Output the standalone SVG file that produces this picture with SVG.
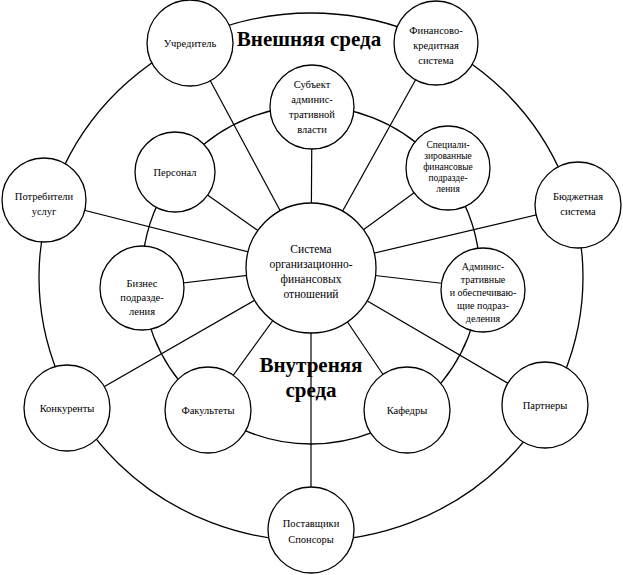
<svg xmlns="http://www.w3.org/2000/svg" width="623" height="575" viewBox="0 0 623 575">
<style>
.ring{fill:none;stroke:#000;stroke-width:1.3}
.conn line{stroke:#000;stroke-width:1.2}
.node circle{fill:#fff;stroke:#000;stroke-width:1.3}
.node text{font-size:10.5px;fill:#000;text-anchor:middle}
.big{font-weight:bold;font-size:21px;fill:#000;text-anchor:middle}
</style>
<rect width="623" height="575" fill="#fff"/>
<g id="rings">
<ellipse class="ring" cx="311" cy="277" rx="272" ry="264"/>
<circle class="ring" cx="311" cy="275" r="169"/>
</g>
<g id="connectors" class="conn">
<line x1="311" y1="268" x2="190" y2="43"/>
<line x1="311" y1="268" x2="436" y2="43"/>
<line x1="311" y1="268" x2="44" y2="200"/>
<line x1="311" y1="268" x2="578" y2="205"/>
<line x1="311" y1="268" x2="67" y2="408"/>
<line x1="311" y1="268" x2="545" y2="405"/>
<line x1="311" y1="268" x2="311" y2="530"/>
<line x1="311" y1="268" x2="312" y2="107"/>
<line x1="311" y1="268" x2="175" y2="172"/>
<line x1="311" y1="268" x2="448" y2="168"/>
<line x1="311" y1="268" x2="140" y2="288"/>
<line x1="311" y1="268" x2="482" y2="288"/>
<line x1="311" y1="268" x2="208" y2="410"/>
<line x1="311" y1="268" x2="407" y2="410"/>
</g>
<g font-family="'Times New Roman', 'Liberation Serif', 'DejaVu Serif', serif">
<text class="big" x="309" y="46">Внешняя среда</text>
<text class="big" x="311" y="372">Внутреняя</text>
<text class="big" x="311" y="397">среда</text>
<g id="n-uchreditel" class="node"><circle cx="190" cy="43" r="43"/><text x="190" y="47">Учредитель</text></g>
<g id="n-finkred" class="node"><circle cx="436" cy="43" r="42"/><text x="436" y="34">Финансово-</text><text x="436" y="49">кредитная</text><text x="436" y="64">система</text></g>
<g id="n-subekt" class="node"><circle cx="312" cy="107" r="42"/><text x="312" y="88">Субъект</text><text x="312" y="103">админис-</text><text x="312" y="118">тративной</text><text x="312" y="133">власти</text></g>
<g id="n-personal" class="node"><circle cx="175" cy="172" r="40"/><text x="175" y="176">Персонал</text></g>
<g id="n-specfin" class="node"><circle cx="448" cy="168" r="42"/><text x="448" y="148" style="font-size:9.5px">Специали-</text><text x="448" y="159" style="font-size:9.5px">зированные</text><text x="448" y="170" style="font-size:9.5px">финансовые</text><text x="448" y="181" style="font-size:9.5px">подразде-</text><text x="448" y="192" style="font-size:9.5px">ления</text></g>
<g id="n-potrebiteli" class="node"><circle cx="44" cy="200" r="42"/><text x="44" y="200">Потребители</text><text x="44" y="215">услуг</text></g>
<g id="n-budget" class="node"><circle cx="578" cy="205" r="43"/><text x="578" y="200">Бюджетная</text><text x="578" y="215">система</text></g>
<g id="n-center" class="node"><circle cx="311" cy="268" r="65"/><text x="311" y="253" style="font-size:11.5px">Система</text><text x="311" y="268" style="font-size:11.5px">организационно-</text><text x="311" y="283" style="font-size:11.5px">финансовых</text><text x="311" y="298" style="font-size:11.5px">отношений</text></g>
<g id="n-biznes" class="node"><circle cx="142" cy="288" r="42"/><text x="142" y="287">Бизнес</text><text x="142" y="301">подразде-</text><text x="142" y="315">ления</text></g>
<g id="n-admin" class="node"><circle cx="483" cy="290" r="42"/><text x="483" y="270" style="font-size:10px">Админис-</text><text x="483" y="283" style="font-size:10px">тративные</text><text x="483" y="296" style="font-size:10px">и обеспечиваю-</text><text x="483" y="309" style="font-size:10px">щие подраз-</text><text x="483" y="322" style="font-size:10px">деления</text></g>
<g id="n-konkurenty" class="node"><circle cx="67" cy="408" r="43"/><text x="67" y="412">Конкуренты</text></g>
<g id="n-fakultety" class="node"><circle cx="208" cy="410" r="43"/><text x="208" y="414">Факультеты</text></g>
<g id="n-kafedry" class="node"><circle cx="407" cy="410" r="43"/><text x="407" y="414">Кафедры</text></g>
<g id="n-partnery" class="node"><circle cx="545" cy="405" r="43"/><text x="545" y="409">Партнеры</text></g>
<g id="n-postavshiki" class="node"><circle cx="311" cy="530" r="43"/><text x="311" y="527">Поставщики</text><text x="311" y="543">Спонсоры</text></g>
</g>
</svg>
